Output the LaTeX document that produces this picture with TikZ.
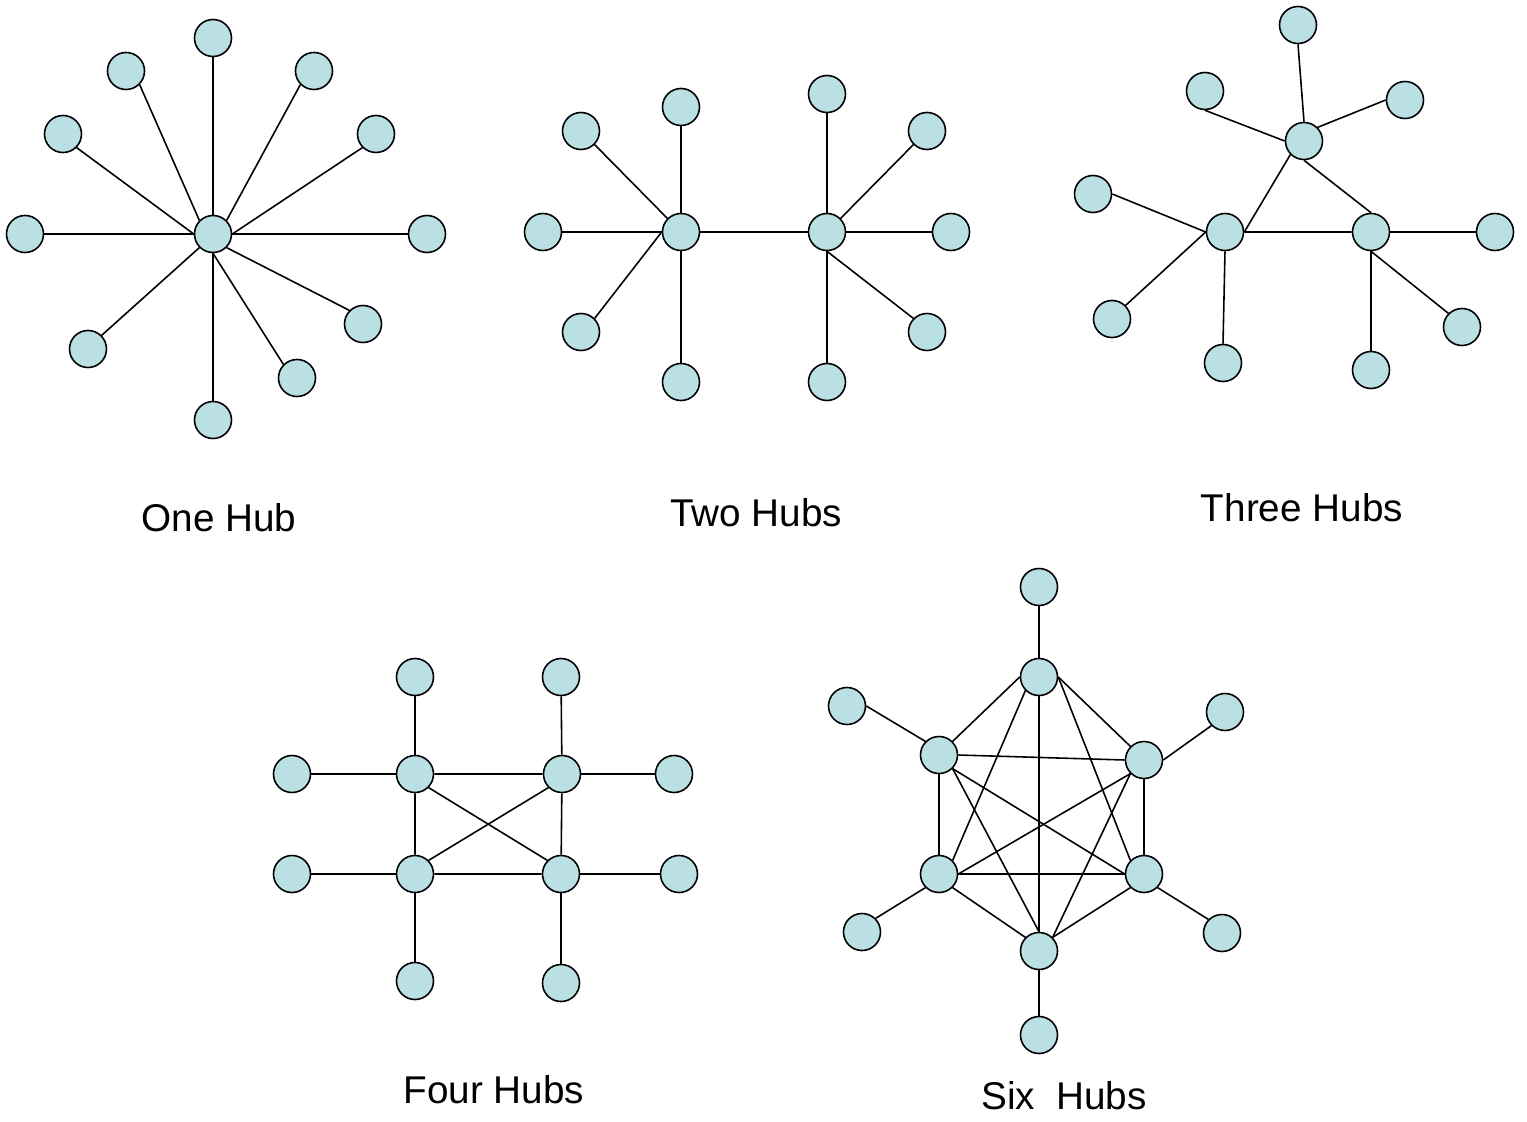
\documentclass[tikz,border=0pt]{standalone}
\usepackage{fontspec}
\setmainfont{Liberation Sans}
\usepackage{tikz}

\definecolor{dotfill}{RGB}{187,224,227}

\begin{document}
\begin{tikzpicture}[x=0.01cm, y=-0.01cm, line width=0.45pt,
  dot/.style={circle, draw, fill=dotfill, minimum size=0.37cm, inner sep=0pt},
  lbl/.style={font=\fontsize{11}{13}\selectfont}]
\useasboundingbox (0,0) rectangle (1527,1121);

% one hub
\node[dot] (hubA) at (213,234) {};
\foreach \x/\y/\s/\t [count=\i] in {213/38/south/north, 126/71/south east/north west,
  314/71/south west/north east, 63/134/south east/west, 376/134/south west/east,
  25/234/east/west, 427/234/west/east, 88/349/north east/south west,
  363/324/north west/south east, 297/378/north west/south, 213/420/north/south}
{
  \node[dot] (a\i) at (\x,\y) {};
  \draw (a\i.\s) -- (hubA.\t);
}
\node[lbl] (lblA) at (219,518) {One Hub};

% two hubs
\node[dot] (hubB1) at (681,232) {};
\node[dot] (hubB2) at (827,232) {};
\draw (hubB1.east) -- (hubB2.west);
\foreach \x/\y/\s/\t [count=\i] in {681/107/south/hubB1.north, 581/131/south east/hubB1.north west,
  543/232/east/hubB1.west, 581/332/north east/hubB1.west, 681/382/north/hubB1.south,
  827/94/south/hubB2.north, 927/131/south west/hubB2.north east, 951/232/west/hubB2.east,
  927/332/north west/hubB2.south, 827/382/north/hubB2.south}
{
  \node[dot] (b\i) at (\x,\y) {};
  \draw (b\i.\s) -- (\t);
}
\node[lbl] (lblB) at (756,513) {Two Hubs};

% three hubs
\node[dot] (hubC1) at (1304,141) {};
\node[dot] (hubC2) at (1225,232) {};
\node[dot] (hubC3) at (1371,232) {};
\draw (hubC1.south west) -- (hubC2.east)
      (hubC1.south) -- (hubC3.north)
      (hubC2.east) -- (hubC3.west);
\foreach \x/\y/\s/\t [count=\i] in {1298/25/south/hubC1.north, 1205/91/south/hubC1.west,
  1405/100/west/hubC1.north east, 1093/194/east/hubC2.west, 1112/319/north east/hubC2.west,
  1223/363/north/hubC2.south, 1495/232/west/hubC3.east, 1462/327/north west/hubC3.south,
  1371/370/north/hubC3.south}
{
  \node[dot] (c\i) at (\x,\y) {};
  \draw (c\i.\s) -- (\t);
}
\node[lbl] (lblC) at (1302,508) {Three Hubs};

% four hubs
\node[dot] (hubD1) at (415,774) {};
\node[dot] (hubD2) at (562,774) {};
\node[dot] (hubD3) at (415,874) {};
\node[dot] (hubD4) at (561,874) {};
\draw (hubD1) -- (hubD2) (hubD3) -- (hubD4)
      (hubD1) -- (hubD3) (hubD2) -- (hubD4)
      (hubD1.south east) -- (hubD4.north west)
      (hubD2.south west) -- (hubD3.north east);
\foreach \x/\y/\t [count=\i] in {415/677/hubD1, 561/677/hubD2, 292/774/hubD1, 674/774/hubD2,
  292/874/hubD3, 679/874/hubD4, 415/981/hubD3, 561/983/hubD4}
{
  \node[dot] (d\i) at (\x,\y) {};
  \draw (d\i) -- (\t);
}
\node[lbl] (lblD) at (494,1090) {Four Hubs};

% six hubs, every hub linked to every other
\node[dot] (hubE1) at (1039,677) {};
\node[dot] (hubE2) at (939,755) {};
\node[dot] (hubE3) at (1144,760) {};
\node[dot] (hubE4) at (939,874) {};
\node[dot] (hubE5) at (1144,874) {};
\node[dot] (hubE6) at (1039,951) {};
\foreach \a/\b in {hubE1.west/hubE2.north east, hubE1.east/hubE3.north west,
  hubE1.south west/hubE4.north east, hubE1.east/hubE5.north west, hubE1.south/hubE6.north,
  hubE2.east/hubE3.west, hubE2.south/hubE4.north, hubE2.south east/hubE5.west,
  hubE2.south east/hubE6.north, hubE3.south west/hubE4.east, hubE3.south/hubE5.north,
  hubE3.south west/hubE6.north east, hubE4.east/hubE5.west, hubE4.south east/hubE6.north west,
  hubE5.south west/hubE6.north east}
  \draw (\a) -- (\b);
\foreach \x/\y/\s/\t [count=\i] in {1039/587/south/hubE1.north, 847/706/east/hubE2.north west,
  1225/712/south west/hubE3.east, 862/932/north east/hubE4.south west,
  1222/933/north west/hubE5.south east, 1039/1035/north/hubE6.south}
{
  \node[dot] (e\i) at (\x,\y) {};
  \draw (e\i.\s) -- (\t);
}
\node[lbl] (lblE) at (1064,1096) {Six~~Hubs};
\end{tikzpicture}
\end{document}
